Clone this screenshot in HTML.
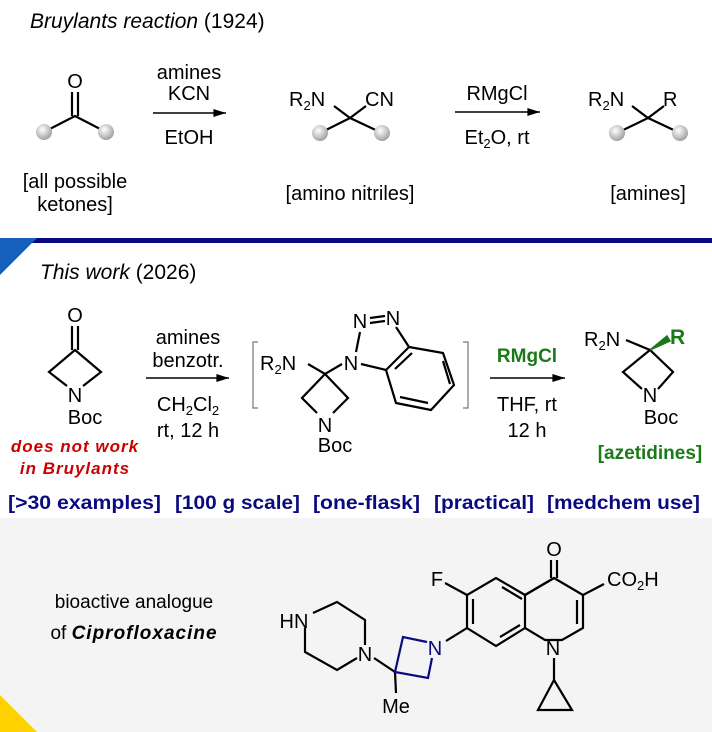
<!DOCTYPE html>
<html><head><meta charset="utf-8"><style>
html,body{margin:0;padding:0;background:#fff;}
svg{display:block;font-family:"Liberation Sans",Arial,sans-serif;}
</style></head><body>
<svg width="712" height="732" viewBox="0 0 712 732" xmlns="http://www.w3.org/2000/svg">
<defs>
<radialGradient id="ball" cx="0.4" cy="0.35" r="0.7">
<stop offset="0" stop-color="#ffffff"/><stop offset="1" stop-color="#9a9a9a"/>
</radialGradient>
<marker id="ah" viewBox="0 0 14 10" refX="14" refY="5" markerWidth="14" markerHeight="9" markerUnits="userSpaceOnUse" orient="auto"><path d="M0,0.5 L14,5 L0,9.5 z" fill="#000"/></marker>
</defs>
<rect x="0" y="518" width="712" height="214" fill="#f4f4f4"/>
<polygon points="0,695 37,732 0,732" fill="#ffd200"/>
<rect x="0" y="238" width="712" height="5" fill="#0a0a80"/>
<polygon points="0,238 37,238 0,275" fill="#1560bd"/>

<g fill="#000" font-size="20">
<text x="30" y="28" font-style="italic" font-size="21">Bruylants reaction <tspan font-style="normal">(1924)</tspan></text>
<text x="75" y="88" text-anchor="middle">O</text>
<text x="75" y="188" text-anchor="middle">[all possible</text>
<text x="75" y="211" text-anchor="middle">ketones]</text>
<text x="189" y="79" text-anchor="middle">amines</text>
<text x="189" y="100" text-anchor="middle">KCN</text>
<text x="189" y="144" text-anchor="middle">EtOH</text>
<text x="289" y="106">R<tspan font-size="13" dy="4">2</tspan><tspan dy="-4">N</tspan></text>
<text x="365" y="106">CN</text>
<text x="350" y="200" text-anchor="middle">[amino nitriles]</text>
<text x="497" y="100" text-anchor="middle">RMgCl</text>
<text x="497" y="144" text-anchor="middle">Et<tspan font-size="13" dy="4">2</tspan><tspan dy="-4">O, rt</tspan></text>
<text x="588" y="106">R<tspan font-size="13" dy="4">2</tspan><tspan dy="-4">N</tspan></text>
<text x="663" y="106">R</text>
<text x="648" y="200" text-anchor="middle">[amines]</text>
</g>
<g stroke="#000" stroke-width="2.2" fill="none">
<line x1="72" y1="92" x2="72" y2="116"/><line x1="78" y1="92" x2="78" y2="116"/>
<polyline points="44,132 75,116 106,132"/>
<line x1="153" y1="113" x2="226" y2="113" stroke-width="1.6" marker-end="url(#ah)"/>
<polyline points="320,133 350,118 382,133"/>
<line x1="350" y1="118" x2="334" y2="106"/><line x1="350" y1="118" x2="366" y2="106"/>
<line x1="455" y1="112" x2="540" y2="112" stroke-width="1.6" marker-end="url(#ah)"/>
<polyline points="617,133 648,118 680,133"/>
<line x1="648" y1="118" x2="632" y2="106"/><line x1="648" y1="118" x2="664" y2="106"/>
</g>
<g fill="url(#ball)">
<circle cx="44" cy="132" r="8"/><circle cx="106" cy="132" r="8"/>
<circle cx="320" cy="133" r="8"/><circle cx="382" cy="133" r="8"/>
<circle cx="617" cy="133" r="8"/><circle cx="680" cy="133" r="8"/>
</g>

<g fill="#000" font-size="20">
<text x="40" y="279" font-style="italic" font-size="21">This work <tspan font-style="normal">(2026)</tspan></text>
<text x="75" y="322" text-anchor="middle">O</text>
<text x="75" y="402" text-anchor="middle">N</text>
<text x="85" y="424" text-anchor="middle">Boc</text>
<text x="188" y="344" text-anchor="middle">amines</text>
<text x="188" y="367" text-anchor="middle">benzotr.</text>
<text x="188" y="411" text-anchor="middle">CH<tspan font-size="13" dy="4">2</tspan><tspan dy="-4">Cl</tspan><tspan font-size="13" dy="4">2</tspan></text>
<text x="188" y="437" text-anchor="middle">rt, 12 h</text>
<text x="260" y="370">R<tspan font-size="13" dy="4">2</tspan><tspan dy="-4">N</tspan></text>
<text x="325" y="432" text-anchor="middle">N</text>
<text x="335" y="452" text-anchor="middle">Boc</text>
<text x="351" y="370" text-anchor="middle">N</text>
<text x="360" y="328" text-anchor="middle">N</text>
<text x="393" y="325" text-anchor="middle">N</text>
<text x="527" y="411" text-anchor="middle">THF, rt</text>
<text x="527" y="437" text-anchor="middle">12 h</text>
<text x="584" y="346">R<tspan font-size="13" dy="4">2</tspan><tspan dy="-4">N</tspan></text>
<text x="650" y="402" text-anchor="middle">N</text>
<text x="661" y="424" text-anchor="middle">Boc</text>
</g>
<text x="527" y="362" text-anchor="middle" font-size="19" font-weight="bold" fill="#1a7a1a">RMgCl</text>
<text x="670" y="344" font-size="21" font-weight="bold" fill="#1a7a1a">R</text>
<text x="650" y="459" text-anchor="middle" font-size="19" font-weight="bold" fill="#1a7a1a">[azetidines]</text>
<text x="75" y="452" text-anchor="middle" font-size="17" font-weight="bold" font-style="italic" fill="#cc0000" letter-spacing="1">does not work</text>
<text x="75" y="474" text-anchor="middle" font-size="17" font-weight="bold" font-style="italic" fill="#cc0000" letter-spacing="1">in Bruylants</text>
<g font-size="19" font-weight="bold" fill="#0a0a80">
<text x="8" y="509" textLength="153" lengthAdjust="spacingAndGlyphs">[&gt;30 examples]</text>
<text x="175" y="509" textLength="125" lengthAdjust="spacingAndGlyphs">[100 g scale]</text>
<text x="313" y="509" textLength="107" lengthAdjust="spacingAndGlyphs">[one-flask]</text>
<text x="434" y="509" textLength="100" lengthAdjust="spacingAndGlyphs">[practical]</text>
<text x="547" y="509" textLength="153" lengthAdjust="spacingAndGlyphs">[medchem use]</text>
</g>

<g stroke="#000" stroke-width="2.2" fill="none">
<line x1="72" y1="326" x2="72" y2="350"/><line x1="78" y1="326" x2="78" y2="350"/>
<polyline points="67,386 49,372 75,350 101,372 83,386"/>
<line x1="146" y1="378" x2="229" y2="378" stroke-width="1.6" marker-end="url(#ah)"/>
<polyline points="258,342 253,342 253,408 258,408" stroke="#777" stroke-width="1.2"/>
<polyline points="463,342 468,342 468,408 463,408" stroke="#777" stroke-width="1.2"/>
<polyline points="308,364 325,374 342,364"/>
<polyline points="317,413 302,398 325,374 348,398 333,413"/>
<line x1="356" y1="352" x2="360" y2="332"/>
<line x1="370" y1="318" x2="385" y2="316"/><line x1="370" y1="323" x2="385" y2="321"/>
<line x1="396" y1="327" x2="409" y2="347"/>
<line x1="361" y1="364" x2="386" y2="370"/>
<polygon points="409,347 443,353 454,385 431,410 396,403 386,370"/>
<line x1="395" y1="369" x2="412" y2="353"/>
<line x1="443" y1="361" x2="450" y2="384"/>
<line x1="428" y1="403" x2="400" y2="397"/>
<line x1="490" y1="378" x2="565" y2="378" stroke-width="1.6" marker-end="url(#ah)"/>
<line x1="626" y1="340" x2="650" y2="350"/>
<polyline points="642,389 623,372 650,350 673,372 658,389"/>
</g>
<polygon points="650,350 667,336 670,341" fill="#1a7a1a" stroke="#1a7a1a" stroke-width="1.5"/>

<g fill="#000" font-size="19">
<text x="134" y="608" text-anchor="middle" font-size="19">bioactive analogue</text>
<text x="134" y="639" text-anchor="middle" font-size="19">of <tspan font-weight="bold" font-style="italic" letter-spacing="1">Ciprofloxacine</tspan></text>
<text x="554" y="556" text-anchor="middle" font-size="20">O</text>
<text x="607" y="586" font-size="20">CO<tspan font-size="13" dy="4">2</tspan><tspan dy="-4">H</tspan></text>
<text x="437" y="586" text-anchor="middle" font-size="20">F</text>
<text x="553" y="655" text-anchor="middle" font-size="20">N</text>
<text x="435" y="655" text-anchor="middle" font-size="20" fill="#0a0a80">N</text>
<text x="365" y="661" text-anchor="middle" font-size="20">N</text>
<text x="294" y="628" text-anchor="middle" font-size="20">HN</text>
<text x="396" y="713" text-anchor="middle" font-size="20">Me</text>
</g>
<g stroke="#000" stroke-width="2.2" fill="none">
<line x1="551" y1="560" x2="551" y2="578"/><line x1="557" y1="560" x2="557" y2="578"/>
<polygon points="554,578 583,595 583,628 562,640 545,640 525,628 525,595"/>
<line x1="554" y1="578" x2="525" y2="595"/>
<line x1="577" y1="600" x2="577" y2="624"/>
<line x1="583" y1="595" x2="604" y2="584"/>
<polyline points="525,595 496,578 467,595 467,628 496,646 525,628"/>
<line x1="502" y1="587" x2="522" y2="599"/>
<line x1="473" y1="599" x2="473" y2="624"/>
<line x1="500" y1="637" x2="520" y2="625"/>
<line x1="467" y1="595" x2="445" y2="583"/>
<line x1="467" y1="628" x2="446" y2="641"/>
<line x1="554" y1="658" x2="554" y2="680"/>
<polygon points="554,680 538,710 572,710"/>
<line x1="395" y1="672" x2="396" y2="693"/>
<line x1="374" y1="658" x2="395" y2="672"/>
<polyline points="365,645 365,620 337,602 313,613"/>
<polyline points="305,628 305,652 337,670 357,658"/>
</g>
<g stroke="#0a0a80" stroke-width="2.2" fill="none">
<polyline points="427,642 403,637 395,672 428,678 432,658"/>
</g>
</svg>
</body></html>
